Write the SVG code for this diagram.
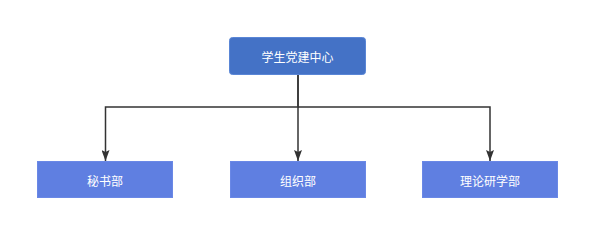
<svg xmlns="http://www.w3.org/2000/svg" width="593" height="242" viewBox="0 0 593 242">
<style>
.lbl{font-family:"Noto Sans CJK SC","Noto Sans",sans-serif;font-size:12px;fill:#ffffff;text-anchor:middle;dominant-baseline:central}
.sub{fill:#5f7fe1;stroke:#6a88e6;stroke-width:1}
.edge{fill:none;stroke:#333333;stroke-width:1.5}
</style>
<defs>
<marker id="arr" markerWidth="11" markerHeight="8" refX="11" refY="4" orient="auto" markerUnits="userSpaceOnUse">
<path d="M0,0 L11,4 L0,8 L2,4 Z" fill="#333333"/>
</marker>
</defs>
<rect width="593" height="242" fill="#ffffff"/>
<g id="connectors">
<path class="edge" d="M298,75 V107 H105.5 V161" marker-end="url(#arr)"/>
<path class="edge" d="M298,75 V161" marker-end="url(#arr)"/>
<path class="edge" d="M298,107 H490 V161" marker-end="url(#arr)"/>
</g>
<g id="center">
<rect x="229.5" y="37.5" width="136" height="37" rx="3" fill="#4472c6" stroke="#5a86d6"/>
<text class="lbl" x="297.5" y="56">学生党建中心</text>
</g>
<g id="mishu">
<rect class="sub" x="37.5" y="161.5" width="135" height="36"/>
<text class="lbl" x="105" y="180">秘书部</text>
</g>
<g id="zuzhi">
<rect class="sub" x="230.5" y="161.5" width="135" height="36"/>
<text class="lbl" x="298" y="180">组织部</text>
</g>
<g id="lilun">
<rect class="sub" x="422.5" y="161.5" width="135" height="36"/>
<text class="lbl" x="490" y="180">理论研学部</text>
</g>
</svg>
